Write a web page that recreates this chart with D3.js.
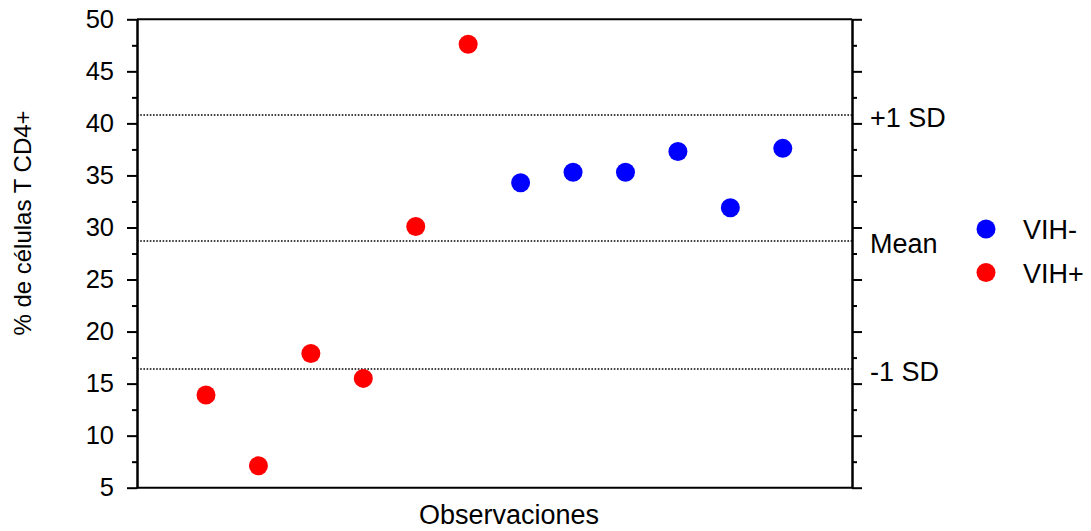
<!DOCTYPE html>
<html>
<head>
<meta charset="utf-8">
<script src="https://cdn.jsdelivr.net/npm/d3@7.9.0/dist/d3.min.js"></script>
<style>
  body { margin: 0; background: #fff; }
  svg { display: block; font-family: "Liberation Sans", Arial, sans-serif; }
</style>
</head>
<body>
<svg id="chart" width="1091" height="531"></svg>
<script>
// observation index, % CD4+ T cells, group
const observations = [1, 2, 3, 4, 5, 6, 7, 8, 9, 10, 11, 12];
const cd4Values = [13.9, 7.1, 17.9, 15.5, 30.1, 47.6, 34.3, 35.3, 35.3, 37.3, 31.9, 37.6];
const groups = ['VIH+', 'VIH+', 'VIH+', 'VIH+', 'VIH+', 'VIH+', 'VIH-', 'VIH-', 'VIH-', 'VIH-', 'VIH-', 'VIH-'];

// reference lines
const refLabels = ['+1 SD', 'Mean', '-1 SD'];
const refValues = [40.8, 28.7, 16.4];

const yMajorTicks = [5, 10, 15, 20, 25, 30, 35, 40, 45, 50];
const yMinorTicks = [7.5, 12.5, 17.5, 22.5, 27.5, 32.5, 37.5, 42.5, 47.5];

const legendLabels = ['VIH-', 'VIH+'];
const legendColors = ['#0000ff', '#ff0000'];

const margin = { top: 19.3, right: 239, bottom: 43.3, left: 137 };
const W = 1091, H = 531;
const innerW = W - margin.left - margin.right;
const innerH = H - margin.top - margin.bottom;

const svg = d3.select('#chart');
const g = svg.append('g').attr('transform', `translate(${margin.left},${margin.top})`);

const x = d3.scaleLinear().domain([-0.316, 13.32]).range([0, innerW]);
const y = d3.scaleLinear().domain([5, 50]).range([innerH, 0]);
const color = d3.scaleOrdinal().domain(legendLabels).range(legendColors);

/*reference lines*/
g.selectAll('.ref')
  .data(refValues)
  .join('line')
  .attr('x1', 0)
  .attr('x2', innerW)
  .attr('y1', d => y(d))
  .attr('y2', d => y(d))
  .attr('stroke', '#000')
  .attr('stroke-width', 1.6)
  .attr('stroke-dasharray', '1.6,1.6');

/*frame top*/
g.append('line').attr('x1', 0).attr('x2', innerW).attr('y1', 0).attr('y2', 0)
  .attr('stroke', '#000').attr('stroke-width', 2);

/*left axis*/
const styleAxis = sel => {
  sel.select('.domain').attr('stroke-width', 2);
  sel.selectAll('line').attr('stroke-width', 2);
};

g.append('g')
  .call(d3.axisLeft(y).tickValues(yMajorTicks).tickSize(10).tickPadding(13).tickSizeOuter(0))
  .call(styleAxis)
  .call(a => a.selectAll('text').attr('font-size', 25.5).attr('fill', '#000').attr('font-family', '"Liberation Sans", Arial, sans-serif'));

g.append('g')
  .call(d3.axisLeft(y).tickValues(yMinorTicks).tickSize(5).tickFormat('').tickSizeOuter(0))
  .call(styleAxis);

/*right axis, no labels*/
g.append('g')
  .attr('transform', `translate(${innerW},0)`)
  .call(d3.axisRight(y).tickValues(yMajorTicks).tickSize(10).tickFormat('').tickSizeOuter(0))
  .call(styleAxis);

g.append('g')
  .attr('transform', `translate(${innerW},0)`)
  .call(d3.axisRight(y).tickValues(yMinorTicks).tickSize(5).tickFormat('').tickSizeOuter(0))
  .call(styleAxis);

/*bottom*/
g.append('line').attr('x1', 0).attr('x2', innerW).attr('y1', innerH).attr('y2', innerH)
  .attr('stroke', '#000').attr('stroke-width', 2);

/*reference labels*/
g.selectAll('.refLabel')
  .data(refValues)
  .join('text')
  .attr('x', innerW + 18)
  .attr('y', d => y(d) + 3)
  .attr('dominant-baseline', 'central')
  .attr('font-size', 27)
  .text((d, i) => refLabels[i]);

/*points*/
g.selectAll('circle.pt')
  .data(observations)
  .join('circle')
  .attr('class', 'pt')
  .attr('cx', d => x(d))
  .attr('cy', (d, i) => y(cd4Values[i]))
  .attr('r', 9.5)
  .attr('fill', (d, i) => color(groups[i]));

/*legend*/
const legend = svg.append('g').attr('transform', 'translate(986,229)');
legend.selectAll('g')
  .data(legendLabels)
  .join('g')
  .attr('transform', (d, i) => `translate(0,${i * 43.5})`)
  .call(sel => {
    sel.append('circle').attr('r', 9.5).attr('fill', d => color(d));
    sel.append('text')
      .attr('x', 37)
      .attr('y', 1)
      .attr('dominant-baseline', 'central')
      .attr('font-size', 27)
      .text(d => d);
  });

/*axis titles*/
svg.append('text')
  .attr('x', 509)
  .attr('y', 524)
  .attr('text-anchor', 'middle')
  .attr('font-size', 27)
  .text('Observaciones');

svg.append('text')
  .attr('transform', 'translate(31,223) rotate(-90)')
  .attr('text-anchor', 'middle')
  .attr('font-size', 24)
  .text('% de células T CD4+');
</script>
</body>
</html>
